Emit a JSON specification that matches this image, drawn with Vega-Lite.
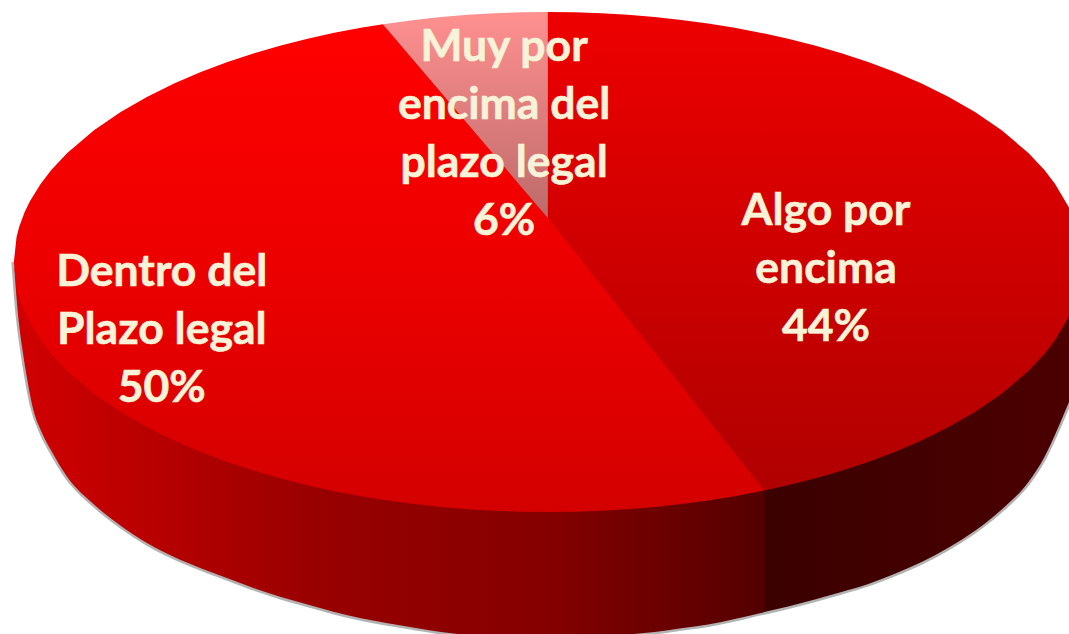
{
"$schema":"https://vega.github.io/schema/vega-lite/v6.json",
"width":1069,"height":634,"padding":0,
"autosize":{"type":"none"},
"background":"white",
"view":{"stroke":null},
"datasets":{
"slices":[
{"categoria":"Dentro del Plazo legal","share":50,"label":"Dentro del\nPlazo legal\n50%","x":-72.3,"y":-4.2},
{"categoria":"Algo por encima","share":44,"label":"Algo por\nencima\n44%","x":52.1,"y":20.1},
{"categoria":"Muy por encima del plazo legal","share":6,"label":"Muy por\nencima del\nplazo legal\n6%","x":-8.2,"y":85.6}
],
"outline":[
{"part":"wallL","x":-100,"y":0,"y2":0},{"part":"wallL","x":-99.4,"y":-8,"y2":-17},{"part":"wallL","x":-98.3,"y":-15.4,"y2":-36.4},{"part":"wallL","x":-97.5,"y":-19,"y2":-47},{"part":"wallL","x":-96.6,"y":-22.8,"y2":-57},{"part":"wallL","x":-94.6,"y":-29.4,"y2":-69},{"part":"wallL","x":-93,"y":-33.8,"y2":-75.5},{"part":"wallL","x":-90,"y":-40.6,"y2":-86},{"part":"wallL","x":-85,"y":-49.7,"y2":-97},{"part":"wallL","x":-80,"y":-57,"y2":-105.5},{"part":"wallL","x":-75,"y":-63.1,"y2":-112.5},{"part":"wallL","x":-70,"y":-68.4,"y2":-118},{"part":"wallL","x":-65,"y":-73,"y2":-122.5},{"part":"wallL","x":-60,"y":-77,"y2":-126.5},{"part":"wallL","x":-55,"y":-80.5,"y2":-130.5},{"part":"wallL","x":-50,"y":-83.6,"y2":-134},{"part":"wallL","x":-45,"y":-86.3,"y2":-137},{"part":"wallL","x":-40,"y":-88.7,"y2":-140},{"part":"wallL","x":-35,"y":-90.7,"y2":-142.5},{"part":"wallL","x":-30,"y":-92.4,"y2":-144.5},{"part":"wallL","x":-25,"y":-93.8,"y2":-146.3},{"part":"wallL","x":-20,"y":-95,"y2":-148},{"part":"wallL","x":-15,"y":-95.9,"y2":-149.2},{"part":"wallL","x":-10,"y":-96.5,"y2":-150},{"part":"wallL","x":-5,"y":-96.9,"y2":-150.5},{"part":"wallL","x":0,"y":-97,"y2":-150.6},{"part":"wallL","x":5,"y":-96.9,"y2":-150.3},{"part":"wallL","x":10,"y":-96.5,"y2":-149.8},{"part":"wallL","x":15,"y":-95.9,"y2":-149},{"part":"wallL","x":20,"y":-95,"y2":-148},{"part":"wallL","x":25,"y":-93.8,"y2":-146.5},{"part":"wallL","x":30,"y":-92.4,"y2":-145},{"part":"wallL","x":35,"y":-90.7,"y2":-142.8},{"part":"wallL","x":40.6,"y":-88.4,"y2":-140},
{"part":"wallR","x":39.7,"y":-88.7,"y2":-140.4},{"part":"wallR","x":45,"y":-86.3,"y2":-137.8},{"part":"wallR","x":50,"y":-83.6,"y2":-135},{"part":"wallR","x":55,"y":-80.5,"y2":-132},{"part":"wallR","x":60,"y":-77,"y2":-128.8},{"part":"wallR","x":65,"y":-73,"y2":-124.7},{"part":"wallR","x":70,"y":-68.4,"y2":-120},{"part":"wallR","x":75,"y":-63.1,"y2":-114.3},{"part":"wallR","x":80,"y":-57,"y2":-107.5},{"part":"wallR","x":85,"y":-49.7,"y2":-99},{"part":"wallR","x":90,"y":-40.6,"y2":-88},{"part":"wallR","x":93,"y":-33.8,"y2":-78},{"part":"wallR","x":95,"y":-28.2,"y2":-69},{"part":"wallR","x":97.6,"y":-18.8,"y2":-56},
{"part":"Dentro","x":-100,"y":0,"y2":0},{"part":"Dentro","x":-99.5,"y":10,"y2":-10},{"part":"Dentro","x":-99,"y":14.1,"y2":-14.1},{"part":"Dentro","x":-98,"y":19.9,"y2":-19.9},{"part":"Dentro","x":-97,"y":24.3,"y2":-24.3},{"part":"Dentro","x":-95,"y":31.2,"y2":-31.2},{"part":"Dentro","x":-93,"y":36.8,"y2":-36.8},{"part":"Dentro","x":-90,"y":43.6,"y2":-43.6},{"part":"Dentro","x":-85,"y":52.7,"y2":-52.7},{"part":"Dentro","x":-80,"y":60,"y2":-60},{"part":"Dentro","x":-75,"y":66.1,"y2":-66.1},{"part":"Dentro","x":-70,"y":71.4,"y2":-71.4},{"part":"Dentro","x":-65,"y":76,"y2":-76},{"part":"Dentro","x":-60,"y":80,"y2":-80},{"part":"Dentro","x":-55,"y":83.5,"y2":-83.5},{"part":"Dentro","x":-50,"y":86.6,"y2":-86.6},{"part":"Dentro","x":-45,"y":89.3,"y2":-89.3},{"part":"Dentro","x":-40,"y":91.7,"y2":-91.7},{"part":"Dentro","x":-35,"y":93.7,"y2":-93.7},{"part":"Dentro","x":-30.9,"y":95.1,"y2":-95.1},{"part":"Dentro","x":-25,"y":82.3,"y2":-96.8},{"part":"Dentro","x":-20,"y":69.8,"y2":-98},{"part":"Dentro","x":-15,"y":57.2,"y2":-98.9},{"part":"Dentro","x":-10,"y":44.7,"y2":-99.5},{"part":"Dentro","x":-5,"y":32.1,"y2":-99.9},{"part":"Dentro","x":0,"y":19.6,"y2":-100},{"part":"Dentro","x":5,"y":6.2,"y2":-99.9},{"part":"Dentro","x":10,"y":-7.3,"y2":-99.5},{"part":"Dentro","x":15,"y":-20.7,"y2":-98.9},{"part":"Dentro","x":20,"y":-34.1,"y2":-98},{"part":"Dentro","x":25,"y":-47.5,"y2":-96.8},{"part":"Dentro","x":30,"y":-61,"y2":-95.4},{"part":"Dentro","x":35,"y":-74.4,"y2":-93.7},{"part":"Dentro","x":40.6,"y":-91.4,"y2":-91.4},
{"part":"Algo","x":-0.2,"y":100,"y2":18},{"part":"Algo","x":0,"y":100,"y2":17.6},{"part":"Algo","x":5,"y":99.9,"y2":4.2},{"part":"Algo","x":10,"y":99.5,"y2":-9.3},{"part":"Algo","x":15,"y":98.9,"y2":-22.7},{"part":"Algo","x":20,"y":98,"y2":-36.1},{"part":"Algo","x":25,"y":96.8,"y2":-49.5},{"part":"Algo","x":30,"y":95.4,"y2":-63},{"part":"Algo","x":35,"y":93.7,"y2":-76.4},{"part":"Algo","x":40.6,"y":91.4,"y2":-91.4},{"part":"Algo","x":45,"y":89.3,"y2":-89.3},{"part":"Algo","x":50,"y":86.6,"y2":-86.6},{"part":"Algo","x":55,"y":83.5,"y2":-83.5},{"part":"Algo","x":60,"y":80,"y2":-80},{"part":"Algo","x":65,"y":76,"y2":-76},{"part":"Algo","x":70,"y":71.4,"y2":-71.4},{"part":"Algo","x":75,"y":66.1,"y2":-66.1},{"part":"Algo","x":80,"y":60,"y2":-60},{"part":"Algo","x":85,"y":52.7,"y2":-52.7},{"part":"Algo","x":90,"y":43.6,"y2":-43.6},{"part":"Algo","x":93,"y":36.8,"y2":-36.8},{"part":"Algo","x":95,"y":31.2,"y2":-31.2},{"part":"Algo","x":97.6,"y":21.8,"y2":-21.8},
{"part":"Muy","x":-30.9,"y":95.1,"y2":95.1},{"part":"Muy","x":-25,"y":96.8,"y2":80.3},{"part":"Muy","x":-20,"y":98,"y2":67.8},{"part":"Muy","x":-15,"y":98.9,"y2":55.2},{"part":"Muy","x":-10,"y":99.5,"y2":42.7},{"part":"Muy","x":-5,"y":99.9,"y2":30.1},{"part":"Muy","x":0,"y":100,"y2":17.6}
]},
"data":{"name":"outline"},
"encoding":{
"x":{"field":"x","type":"quantitative","axis":null,"scale":{"domain":[-102.6,97.6],"nice":false,"zero":false}},
"y":{"field":"y","type":"quantitative","axis":null,"stack":null,"scale":{"domain":[-148.8,104.8],"nice":false,"zero":false}}
},
"layer":[
{"transform":[{"filter":"datum.part=='wallL'||datum.part=='wallR'"}],
 "mark":{"type":"line","stroke":"#555555","strokeWidth":5,"opacity":0.45,"interpolate":"monotone"},
 "encoding":{"y":{"field":"y2","type":"quantitative","axis":null,"scale":{"domain":[-148.8,104.8],"nice":false,"zero":false}}}},
{"transform":[{"filter":"datum.part=='wallR'"}],
 "mark":{"type":"area","orient":"vertical","interpolate":"monotone","color":{"gradient":"linear","x1":0,"y1":0,"x2":1,"y2":0,"stops":[{"offset":0,"color":"#3a0000"},{"offset":1,"color":"#4c0000"}]}},
 "encoding":{"y2":{"field":"y2"}}},
{"transform":[{"filter":"datum.part=='wallL'"}],
 "mark":{"type":"area","orient":"vertical","interpolate":"monotone","color":{"gradient":"linear","x1":0,"y1":0,"x2":1,"y2":0,"stops":[{"offset":0,"color":"#d20000"},{"offset":0.4,"color":"#990000"},{"offset":0.7,"color":"#860000"},{"offset":1,"color":"#540000"}]}},
 "encoding":{"y2":{"field":"y2"}}},
{"transform":[{"filter":"datum.part=='Dentro'"}],
 "mark":{"type":"area","orient":"vertical","color":{"gradient":"linear","x1":0,"y1":0,"x2":0,"y2":1,"stops":[{"offset":0,"color":"#ff0000"},{"offset":0.45,"color":"#ee0000"},{"offset":1,"color":"#d40000"}]}},
 "encoding":{"y2":{"field":"y2"}}},
{"transform":[{"filter":"datum.part=='Algo'"}],
 "mark":{"type":"area","orient":"vertical","color":{"gradient":"linear","x1":0,"y1":0,"x2":0,"y2":1,"stops":[{"offset":0,"color":"#ee0000"},{"offset":1,"color":"#b00000"}]}},
 "encoding":{"y2":{"field":"y2"}}},
{"transform":[{"filter":"datum.part=='Muy'"}],
 "mark":{"type":"area","orient":"vertical","color":{"gradient":"linear","x1":0,"y1":0,"x2":0,"y2":1,"stops":[{"offset":0,"color":"#ff9090"},{"offset":1,"color":"#bd6a6a"}]}},
 "encoding":{"y2":{"field":"y2"}}},
{"data":{"name":"slices"},
 "mark":{"type":"text","font":"Lato","fontWeight":"bold","fontSize":44.5,"lineHeight":58,"color":"#f7f3d9","stroke":"#f7f3d9","strokeWidth":0.6,"align":"center","baseline":"middle","lineBreak":"\n"},
 "encoding":{"text":{"field":"label"}}}
]
}
